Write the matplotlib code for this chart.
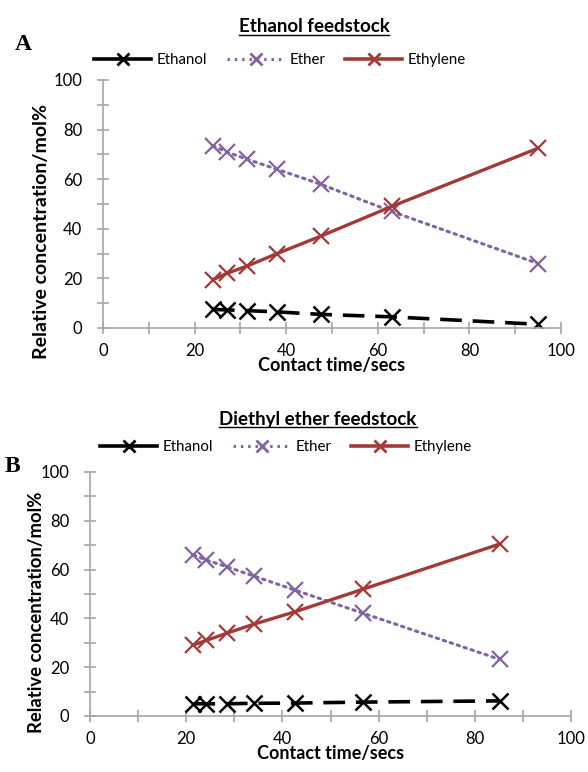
import matplotlib
matplotlib.use("Agg")
import matplotlib.pyplot as plt
import matplotlib.lines as mlines
from matplotlib.ticker import MultipleLocator

# Panel A: Ethanol feedstock
time_a = [24, 27, 31.5, 38, 47.5, 63, 95]
ethanol_a = [7.5, 7.3, 7.0, 6.5, 5.5, 4.5, 1.5]
ether_a = [73.5, 71, 68, 64, 58, 47, 26]
ethylene_a = [19.5, 22, 25, 30, 37, 49, 72.5]

# Panel B: Diethyl ether feedstock
time_b = [21.5, 24.2, 28.4, 34, 42.6, 56.8, 85.2]
ethanol_b = [5.0, 5.0, 5.0, 5.2, 5.3, 5.7, 6.2]
ether_b = [66, 63.9, 61.2, 57.4, 51.6, 42.1, 23.2]
ethylene_b = [29.1, 31, 33.9, 37.6, 42.7, 52, 70.5]

series_names = ["Ethanol", "Ether", "Ethylene"]
x_ticks = [0, 20, 40, 60, 80, 100]
y_ticks = [0, 20, 40, 60, 80, 100]

FONT = "Lato"
plt.rcParams["font.family"] = [FONT, "DejaVu Sans"]

fig = plt.figure(figsize=(5.88, 7.72), dpi=100)

ax_a = fig.add_axes([103/588, 1-328/772, (561-103)/588, (328-80)/772])
ax_b = fig.add_axes([90/588, 1-716/772, (571-90)/588, (716-472)/772])

black = "#000000"
purple = "#8064A2"
red = "#A33A37"
gray = "#A6A6A6"

def draw(ax, t, eth, ether, ethy, ylab_x, ylab_y, ylab_size):
    ax.plot(t, eth, color=black, lw=2.6, dashes=(6, 3), marker="x", ms=11, mew=1.8, label=series_names[0])
    ax.plot(t, ether, color=purple, lw=2.2, dashes=(0.8, 1.6), dash_capstyle="round", marker="x", ms=11, mew=1.6, label=series_names[1])
    ax.plot(t, ethy, color=red, lw=2.4, marker="x", ms=11, mew=1.6, label=series_names[2])
    ax.set_xlim(0, 100)
    ax.set_ylim(0, 100)
    ax.set_xticks(x_ticks)
    ax.set_yticks(y_ticks)
    ax.xaxis.set_minor_locator(MultipleLocator(10))
    ax.yaxis.set_minor_locator(MultipleLocator(10))
    for s in ["top", "right"]:
        ax.spines[s].set_visible(False)
    for s in ["left", "bottom"]:
        ax.spines[s].set_color(gray)
        ax.spines[s].set_linewidth(1.2)
    ax.tick_params(which="both", direction="inout", color=gray, width=1.2, length=8, labelsize=12, pad=11)
    ax.tick_params(axis="x", which="both", length=9, pad=6)
    ax.set_xlabel("Contact time/secs", fontsize=13, fontweight="bold", labelpad=-1)
    ax.set_ylabel("Relative concentration/mol%", fontsize=ylab_size, fontweight="bold")
    ax.yaxis.set_label_coords(ylab_x, ylab_y)
    ax.set_facecolor("none")

draw(ax_a, time_a, ethanol_a, ether_a, ethylene_a, -0.115, 0.39, 14)
draw(ax_b, time_b, ethanol_b, ether_b, ethylene_b, -0.094, 0.426, 13.3)

def legend(ax, y_px, x_px):
    h, l = ax.get_legend_handles_labels()
    hs = [mlines.Line2D([], [], color=black, lw=2.6, marker="x", ms=8, mew=2),
          mlines.Line2D([], [], color=purple, lw=2.2, dashes=(0.8, 1.6), marker="x", ms=8, mew=2),
          mlines.Line2D([], [], color=red, lw=2.6, marker="x", ms=8, mew=2)]
    fig.legend(hs, l, loc="center", bbox_to_anchor=(x_px/588, 1-y_px/772), ncol=3, frameon=False,
               fontsize=10.8, handlelength=3.8, handletextpad=0.35, columnspacing=1.35)

legend(ax_a, 60, 280)
legend(ax_b, 447, 286)

def utitle(text, x_px, y_px):
    t = fig.text(x_px/588, 1-y_px/772, text, ha="center", va="center", fontsize=13.5, fontweight="bold")
    fig.canvas.draw()
    bb = t.get_window_extent(renderer=fig.canvas.get_renderer()).transformed(fig.transFigure.inverted())
    fig.add_artist(plt.Line2D([bb.x0, bb.x1], [bb.y0 + 0.001, bb.y0 + 0.001], color="black", lw=1.0, transform=fig.transFigure))

utitle("Ethanol feedstock", 314, 27)
utitle("Diethyl ether feedstock", 318, 419)

fig.text(23/588, 1-45/772, "A", ha="center", va="center", fontsize=17, fontweight="bold", family="Liberation Serif")
fig.text(12/588, 1-466/772, "B", ha="center", va="center", fontsize=17, fontweight="bold", family="Liberation Serif")

fig.savefig("out.png", dpi=100)
